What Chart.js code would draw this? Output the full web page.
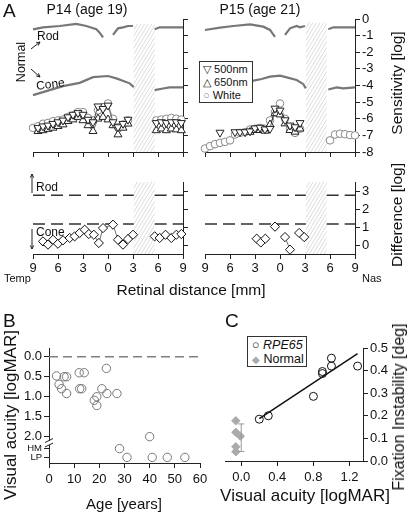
<!DOCTYPE html>
<html>
<head>
<meta charset="utf-8">
<script src="https://cdn.jsdelivr.net/npm/chart.js@4.4.1/dist/chart.umd.min.js"></script>
<style>
  body { margin: 0; width: 410px; height: 514px; position: relative; overflow: hidden; background: #fff;
         font-family: 'Liberation Sans', Arial, sans-serif; color: #111; }
  canvas { position: absolute; left: 0; top: 0; z-index: 0; }
  .t { position: absolute; white-space: nowrap; line-height: 1; z-index: 2; }
  .c { transform: translate(-50%, -50%); }
  .r { transform: translate(-50%, -50%) rotate(-90deg); }
  .box { position: absolute; z-index: 2; background: #fff; border: 1px solid #333; box-sizing: border-box; white-space: nowrap; }
</style>
</head>
<body>
<div class="t" style="left:3px;top:1px;font-size:19px">A</div>
<div class="t c" style="left:87px;top:9px;font-size:14px">P14 (age 19)</div>
<div class="t c" style="left:260px;top:9px;font-size:14px">P15 (age 21)</div>
<div class="t r" style="left:21px;top:62px;font-size:12.5px">Normal</div>
<div class="t" style="left:37px;top:30px;font-size:12px">Rod</div>
<div class="t" style="left:37px;top:80px;font-size:12px;transform:rotate(-8deg);transform-origin:left bottom">Cone</div>
<div class="box" style="left:199px;top:61px;width:54px;height:42px;font-size:11px;line-height:13px;padding:1px 0 0 3px">
  <div>▽ 500nm</div><div>△ 650nm</div><div><span style="color:#888">○</span> White</div>
</div>
<div class="t r" style="left:397px;top:83px;font-size:15.5px">Sensitivity [log]</div>
<div class="t r" style="left:397px;top:215px;font-size:15.5px">Difference [log]</div>
<div class="t" style="left:36px;top:181px;font-size:12px">Rod</div>
<div class="t" style="left:36px;top:226px;font-size:12px">Cone</div>
<div class="t" style="left:4px;top:273px;font-size:11px">Temp</div>
<div class="t" style="left:362px;top:273px;font-size:11px">Nas</div>
<div class="t c" style="left:191px;top:290px;font-size:15.5px">Retinal distance [mm]</div>

<div class="t" style="left:3px;top:311px;font-size:19px">B</div>
<div class="t r" style="left:10px;top:415px;font-size:17px">Visual acuity [logMAR]</div>
<div class="t c" style="left:124px;top:503px;font-size:15px">Age [years]</div>

<div class="t" style="left:225px;top:311px;font-size:19px">C</div>
<div class="box" style="left:247px;top:336px;width:60px;height:31px;font-size:12.5px;line-height:14px;padding:1px 0 0 4px">
  <div><span style="color:#111">○</span> <i>RPE65</i></div><div><span style="color:#aaa;font-size:10px">◆</span> Normal</div>
</div>
<div class="t c" style="left:305px;top:495px;font-size:17px">Visual acuity [logMAR]</div>
<div class="t r" style="left:399px;top:407px;font-size:16px">Fixation Instability [deg]</div>

<script>
// ---- panel A: sensitivity (log) vs retinal distance (mm) ----
const distTicks = [-9, -6, -3, 0, 3, 6, 9]
const sensTicks = [0, -1, -2, -3, -4, -5, -6, -7, -8]
const diffTicks = [0, 1, 2, 3]
const discFrom = 3.1
const discTo = 5.6

// normal rod / cone curves
const rod14X = [-9, -7.8, -5.8, -3.8, -2.6, -1.4, -1.0, -0.6, 0, 0.6, 1.2, 1.8, 2.4, 3.0, 4.2, 5.6, 6.2, 9]
const rod14Y = [-0.62, -0.5, -0.42, -0.3, -0.42, -0.62, -0.82, -1.1, null, -0.96, -0.56, -0.5, -0.42, -0.42, null, -0.62, -0.5, -0.5]
const cone14X = [-9, -7, -5.4, -3.4, -1.8, 0, 1, 2.6, 3.1, 4.2, 5.6, 6.6, 7.4, 8.2, 9]
const cone14Y = [-4.58, -4.28, -4.04, -3.84, -3.5, -3.43, -3.57, -3.87, -4.1, null, -4.28, -4.18, -4.11, -4.11, -4.11]
const rod15X = [-9, -7.2, -5.6, -3.6, -2, -1.2, -0.6, 0, 0.6, 1.2, 2, 2.4, 3.0, 4.2, 5.8, 6.4, 9]
const rod15Y = [-0.66, -0.52, -0.42, -0.32, -0.46, -0.66, -1.07, null, -0.96, -0.56, -0.42, -0.5, -0.42, null, -0.62, -0.5, -0.5]
const cone15X = [-3.6, -2.2, -1.2, 0, 0.8, 2, 2.8, 3.1, 4.2, 5.8, 6.8, 7.6, 9]
const cone15Y = [-3.75, -3.61, -3.47, -3.41, -3.51, -3.67, -3.92, -4.17, null, -4.24, -4.11, -4.17, -4.11]

// patient P14
const x14 = [-9, -8.4, -7.8, -7.2, -6.6, -6.0, -5.4, -4.8, -4.2, -3.6, -3.0, -2.4, -1.8, -1.2, -0.6, 0, 0.6, 1.2, 1.8, 2.4, 4.2, 5.8, 6.4, 7.0, 7.6, 8.2, 8.8]
const s500_14 = [null, -6.55, -6.45, -6.4, -6.3, -6.2, -6.1, -5.9, -5.75, -5.65, -5.75, -6.05, -6.2, -5.25, -5.4, -5.2, -6.2, -6.5, -6.3, -6.05, null, -6.25, -6.2, -6.25, -6.2, -6.2, -6.25]
const s650_14 = [null, -6.75, -6.7, -6.62, -6.55, -6.45, -6.35, -6.15, -6.05, -5.9, -6.1, -6.4, -6.75, -6.0, -5.9, -6.05, -6.4, -6.95, -6.55, -6.3, null, -6.7, -6.6, -6.7, -6.6, -6.65, -6.7]
const sWhite14 = [-6.55, -6.45, -6.3, -6.25, -6.15, -6.1, -6.05, -5.9, -5.8, -5.6, -5.6, -5.95, -6.1, -5.5, -5.3, -5.08, -6.0, -6.5, -6.35, -6.1, null, -6.1, -6.05, -6.0, -5.95, -6.0, -6.05]

// patient P15
const x15 = [-9, -8.4, -7.8, -7.2, -6.6, -6.0, -5.4, -4.8, -4.2, -3.6, -3.0, -2.4, -1.8, -1.2, -0.6, 0, 0.6, 1.2, 1.8, 2.4, 4.2, 6.0, 6.6, 7.2, 7.8, 8.4, 9.0]
const s500_15 = [null, null, null, -6.83, null, null, -6.8, -6.8, -6.8, -6.75, -6.57, -6.53, -6.63, -6.6, -5.38, -5.5, -6.08, -6.4, -6.5, -6.25, null, null, null, null, null, null, null]
const s650_15 = [null, null, null, null, null, null, null, null, null, -6.8, -6.69, -6.69, -6.73, -6.35, -5.68, -5.75, -6.29, -6.69, -6.79, -6.6, null, null, null, null, null, null, null]
const sWhite15 = [-7.79, -7.65, -7.53, -7.45, -7.39, -7.3, -6.95, -6.85, -6.8, -6.65, -6.6, -6.55, -6.6, -6.1, -5.6, -5.08, -6.0, -6.6, -6.85, -6.6, null, -7.3, -6.95, -6.9, -6.93, -6.98, -7.0]

// difference from normal
const rodLevel = 2.76
const coneLevel = 1.17
const levelX = [-9, discFrom, 4.2, discTo, 9]
const diff14X = [-7.8, -7.2, -6.6, -6.0, -5.4, -4.6, -4.0, -3.4, -2.8, -2.3, -1.7, -1.1, -0.6, 0.6, 1.2, 1.8, 2.4, 3.0, 4.2, 5.6, 6.2, 6.9, 7.6, 8.2, 8.8]
const diff14Y = [0.2, 0.02, 0.29, 0.07, 0.26, 0.39, 0.48, 0.67, 0.85, 0.61, 0.57, 0.11, 0.94, 1.13, 0.29, 0.02, 0.33, 0.57, null, 0.48, 0.39, 0.57, 0.39, 0.57, 0.61]
const diff15X = [-2.8, -2.3, -1.76, -1.2, -0.6, 0, 0.6, 1.2, 1.8, 2.3, 2.9]
const diff15Y = [0.35, 0.14, 0.35, null, 1.02, null, 0.44, -0.26, null, 0.67, 0.44]

// ---- panel B: visual acuity vs age ----
const ageTicks = [0, 10, 20, 30, 40, 50, 60]
const acuityTicks = [0, 0.5, 1, 1.5, 2, 2.3, 2.52]
const acuityLabels = ['0.0', '0.5', '1.0', '1.5', '2.0', 'HM', 'LP']
const ageB = [3, 4, 5, 6, 7, 7, 12, 14, 12.2, 13, 22.8, 21, 23, 18, 19, 19, 27, 40, 28, 31, 41, 47, 54]
const acuityB = [0.48, 0.69, 0.8, 0.5, 0.5, 0.92, 0.4, 0.4, 0.8, 0.8, 0.29, 0.8, 0.92, 1.09, 1.0, 1.22, 0.92, 2.0, 2.3, 2.52, 2.52, 2.52, 2.52]
const refAgeX = [0, 60]
const refAgeY = [0, 0]

// ---- panel C: fixation instability vs visual acuity ----
const vaTicks = [0, 0.4, 0.8, 1.2]
const fixTicks = [0, 0.1, 0.2, 0.3, 0.4, 0.5]
const rpeX = [0.2, 0.3, 0.8, 0.9, 0.9, 1.0, 1.0, 1.29]
const rpeY = [0.185, 0.2, 0.286, 0.396, 0.387, 0.455, 0.42, 0.42]
const normalX = [-0.06, -0.06, -0.01, -0.06, -0.06]
const normalY = [0.178, 0.127, 0.11, 0.063, 0.041]
const normalMean = [0, 0.103, 0.061] // x, mean, sd
const fitX = [0.2, 1.29]
const fitY = [0.187, 0.475]

Chart.defaults.font.family = "'Liberation Sans', Arial, sans-serif"
Chart.defaults.font.size = 13
Chart.defaults.color = '#111'

const W = 410
const H = 514

function pts(xs, ys) {
  return xs.map((x, i) => ({ x, y: ys[i] }))
}

function fit(size) {
  return (scale) => {
    if (scale.isHorizontal()) scale.height = size
    else scale.width = size
    scale.paddingLeft = scale.paddingRight = scale.paddingTop = scale.paddingBottom = 0
  }
}

function axis(min, max, vals, label, tickExtra) {
  return {
    type: 'linear',
    min,
    max,
    afterBuildTicks: (s) => { s.ticks = vals.map((v) => ({ value: v })) },
    border: { display: true, color: '#222', width: 1 },
    grid: { display: true, drawOnChartArea: false, tickLength: 5, tickColor: '#222', tickWidth: 1 },
    ticks: Object.assign({
      display: !!label, autoSkip: false, maxRotation: 0, padding: 2, color: '#111',
      font: { size: 13 }, callback: label || (() => ''),
    }, tickExtra || {}),
  }
}

function panel(area, o) {
  const padding = {
    left: area.l - (o.ySide === 'left' ? o.yw : 0),
    right: W - area.r - (o.ySide === 'right' ? o.yw : 0),
    top: area.t,
    bottom: H - area.b - o.xh,
  }
  const cv = document.createElement('canvas')
  cv.width = W
  cv.height = H
  document.body.appendChild(cv)
  return new Chart(cv, {
    type: 'scatter',
    data: { datasets: o.datasets },
    options: {
      responsive: false,
      animation: false,
      events: [],
      layout: { padding },
      plugins: Object.assign({ legend: { display: false }, tooltip: { enabled: false } }, o.pluginOpts || {}),
      scales: {
        x: Object.assign(o.x, { position: 'bottom', afterFit: fit(o.xh) }),
        y: Object.assign(o.y, { position: o.ySide, afterFit: fit(o.yw) }),
      },
    },
    plugins: o.plugins || [],
  })
}

const marker = (style, rot, color) => ({
  pointStyle: style, rotation: rot, pointRadius: style === 'circle' ? 3.8 : 4.6,
  pointBackgroundColor: '#fff', pointBorderColor: color, pointBorderWidth: 1,
  showLine: true, borderColor: color, borderWidth: 0.7, clip: false,
})
const curve = { pointRadius: 0, showLine: true, borderColor: '#777', borderWidth: 2.2, clip: false }
const dashed = { pointRadius: 0, showLine: true, borderColor: '#333', borderWidth: 1.5, borderDash: [12, 6], clip: false }
const diamond = { pointStyle: 'rectRot', pointRadius: 4.6, pointBackgroundColor: '#fff', pointBorderColor: '#111',
  pointBorderWidth: 1, showLine: true, borderColor: '#333', borderWidth: 0.7, clip: false }

// hatched optic disc region
const hatch = {
  id: 'hatch',
  beforeDatasetsDraw(chart, args, o) {
    const { ctx, scales: { x, y } } = chart
    const x0 = x.getPixelForValue(o.from)
    const x1 = x.getPixelForValue(o.to)
    const y0 = y.getPixelForValue(o.top)
    const y1 = y.getPixelForValue(o.bottom)
    const h = y1 - y0
    ctx.save()
    ctx.beginPath()
    ctx.rect(x0, y0, x1 - x0, h)
    ctx.clip()
    ctx.strokeStyle = '#c4c4c4'
    ctx.lineWidth = 0.6
    for (let k = x0 - h * 0.6; k < x1; k += 3.6) {
      ctx.beginPath()
      ctx.moveTo(k, y1)
      ctx.lineTo(k + h * 0.6, y0)
      ctx.stroke()
    }
    ctx.restore()
  },
}

function arrow(ctx, x0, y0, x1, y1) {
  const a = Math.atan2(y1 - y0, x1 - x0)
  const h = 4
  ctx.beginPath()
  ctx.moveTo(x0, y0)
  ctx.lineTo(x1, y1)
  ctx.moveTo(x1 - h * Math.cos(a - 0.45), y1 - h * Math.sin(a - 0.45))
  ctx.lineTo(x1, y1)
  ctx.lineTo(x1 - h * Math.cos(a + 0.45), y1 - h * Math.sin(a + 0.45))
  ctx.stroke()
}

const notes = {
  id: 'notes',
  afterDraw(chart, args, o) {
    const ctx = chart.ctx
    ctx.save()
    ctx.strokeStyle = '#222'
    ctx.lineWidth = 1
    o.arrows.forEach((a) => arrow(ctx, ...a))
    ctx.restore()
  },
}

const distLabel = (v) => String(Math.abs(v))

function sensSets(xs, a500, a650, aWhite, rx, ry, cx, cy) {
  return [
    Object.assign({ data: pts(xs, a500) }, marker('triangle', 180, '#222')),
    Object.assign({ data: pts(xs, a650) }, marker('triangle', 0, '#222')),
    Object.assign({ data: pts(xs, aWhite) }, marker('circle', 0, '#8a8a8a')),
    Object.assign({ data: pts(rx, ry) }, curve),
    Object.assign({ data: pts(cx, cy) }, curve),
  ]
}

function diffSets(dx, dy) {
  return [
    Object.assign({ data: pts(dx, dy) }, diamond),
    Object.assign({ data: pts(levelX, [rodLevel, rodLevel, null, rodLevel, rodLevel]) }, dashed),
    Object.assign({ data: pts(levelX, [coneLevel, coneLevel, null, coneLevel, coneLevel]) }, dashed),
  ]
}

// A, P14 sensitivity
panel({ l: 33, t: 19, r: 183, b: 152 }, {
  ySide: 'right', yw: 10, xh: 8,
  x: axis(-9, 9, distTicks, null),
  y: axis(-8, 0, sensTicks, null),
  datasets: sensSets(x14, s500_14, s650_14, sWhite14, rod14X, rod14Y, cone14X, cone14Y),
  plugins: [hatch, notes],
  pluginOpts: {
    hatch: { from: discFrom, to: discTo, top: -0.3, bottom: -8 },
    notes: { arrows: [[31, 49, 40, 42], [31, 69, 40, 77]] },
  },
})

// A, P15 sensitivity
panel({ l: 205, t: 19, r: 355, b: 152 }, {
  ySide: 'right', yw: 30, xh: 8,
  x: axis(-9, 9, distTicks, null),
  y: axis(-8, 0, sensTicks, (v) => String(v)),
  datasets: sensSets(x15, s500_15, s650_15, sWhite15, rod15X, rod15Y, cone15X, cone15Y),
  plugins: [hatch],
  pluginOpts: { hatch: { from: discFrom, to: discTo, top: -0.2, bottom: -8 } },
})

// A, P14 difference
panel({ l: 33, t: 182, r: 183, b: 254 }, {
  ySide: 'right', yw: 10, xh: 22,
  x: axis(-9, 9, distTicks, distLabel),
  y: axis(-0.5, 3.5, diffTicks, null),
  datasets: diffSets(diff14X, diff14Y),
  plugins: [hatch, notes],
  pluginOpts: {
    hatch: { from: discFrom, to: discTo, top: 3.5, bottom: -0.5 },
    notes: { arrows: [[32, 193, 32, 174], [32, 229, 32, 249]] },
  },
})

// A, P15 difference
panel({ l: 205, t: 182, r: 355, b: 254 }, {
  ySide: 'right', yw: 30, xh: 22,
  x: axis(-9, 9, distTicks, distLabel),
  y: axis(-0.5, 3.5, diffTicks, (v) => String(v)),
  datasets: diffSets(diff15X, diff15Y),
  plugins: [hatch],
  pluginOpts: { hatch: { from: discFrom, to: discTo, top: 3.5, bottom: -0.5 } },
})

// B: axis break between 2.0 and HM
const axisBreak = {
  id: 'axisBreak',
  afterDraw(chart) {
    const { ctx, scales: { x, y } } = chart
    const px = x.left
    const py = y.getPixelForValue(2.16)
    ctx.save()
    ctx.fillStyle = '#fff'
    ctx.fillRect(px - 2, py - 2, 4, 4)
    ctx.strokeStyle = '#222'
    ctx.lineWidth = 1
    ctx.beginPath()
    ctx.moveTo(px - 4, py - 0.5); ctx.lineTo(px + 4, py - 4.5)
    ctx.moveTo(px - 4, py + 4); ctx.lineTo(px + 4, py)
    ctx.stroke()
    ctx.restore()
  },
}

panel({ l: 49, t: 348, r: 200, b: 463 }, {
  ySide: 'left', yw: 45, xh: 30,
  x: axis(0, 60, ageTicks, (v) => String(v), { padding: 4 }),
  y: Object.assign(axis(-0.22, 2.66, acuityTicks, (v, i) => acuityLabels[i], {
    font: (c) => ({ size: c.tick && c.tick.value > 2.1 ? 9.5 : 13 }),
  }), { reverse: true }),
  datasets: [
    { data: pts(ageB, acuityB), pointStyle: 'circle', pointRadius: 4.2, pointBackgroundColor: 'rgba(0,0,0,0)',
      pointBorderColor: '#777', pointBorderWidth: 1, clip: false },
    { data: pts(refAgeX, refAgeY), pointRadius: 0, showLine: true, borderColor: '#808080', borderWidth: 1.6,
      borderDash: [9, 5], clip: false },
  ],
  plugins: [axisBreak],
})

// C: normal mean +- sd error bar
const errorBar = {
  id: 'errorBar',
  afterDatasetsDraw(chart) {
    const { ctx, scales: { x, y } } = chart
    const px = x.getPixelForValue(normalMean[0])
    const top = y.getPixelForValue(normalMean[1] + normalMean[2])
    const bot = y.getPixelForValue(normalMean[1] - normalMean[2])
    ctx.save()
    ctx.strokeStyle = '#999'
    ctx.lineWidth = 1
    ctx.beginPath()
    ctx.moveTo(px, top); ctx.lineTo(px, bot)
    ctx.moveTo(px - 3, top); ctx.lineTo(px + 3, top)
    ctx.moveTo(px - 3, bot); ctx.lineTo(px + 3, bot)
    ctx.stroke()
    ctx.restore()
  },
}

panel({ l: 225, t: 348, r: 363, b: 461 }, {
  ySide: 'right', yw: 40, xh: 30,
  x: axis(-0.18, 1.35, vaTicks, (v) => v.toFixed(1), { padding: 4 }),
  y: axis(0, 0.5, fixTicks, (v) => v.toFixed(1)),
  datasets: [
    { data: pts(rpeX, rpeY), pointStyle: 'circle', pointRadius: 4, pointBackgroundColor: 'rgba(0,0,0,0)',
      pointBorderColor: '#111', pointBorderWidth: 1, clip: false },
    { data: pts(normalX, normalY), pointStyle: 'rectRot', pointRadius: 4.2, pointBackgroundColor: '#aaa',
      pointBorderColor: '#aaa', pointBorderWidth: 1, clip: false },
    { data: pts(fitX, fitY), pointRadius: 0, showLine: true, borderColor: '#111', borderWidth: 1.5, clip: false },
  ],
  plugins: [errorBar],
})
</script>
</body>
</html>
